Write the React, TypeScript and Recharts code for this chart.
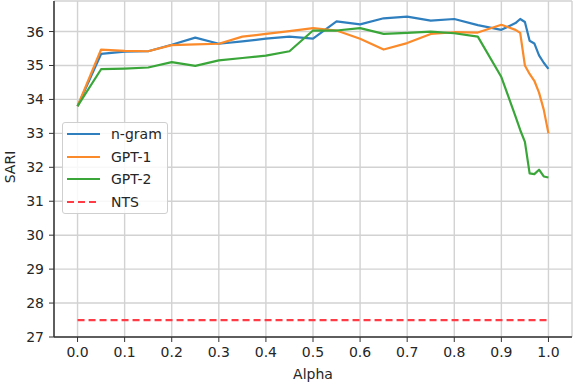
import React from "react";
import {
  LineChart,
  Line,
  XAxis,
  YAxis,
  CartesianGrid,
  Legend,
} from "recharts";

const alphas = [
  0, 0.05, 0.1, 0.15, 0.2, 0.25, 0.3, 0.35, 0.4, 0.45, 0.5, 0.55, 0.6, 0.65,
  0.7, 0.75, 0.8, 0.85, 0.9, 0.93, 0.94, 0.95, 0.96, 0.97, 0.98, 0.99, 1.0,
];

const ngram = [
  33.8, 35.34, 35.41, 35.42, 35.61, 35.82, 35.64, 35.71, 35.79, 35.85, 35.79,
  36.3, 36.21, 36.39, 36.44, 36.32, 36.37, 36.19, 36.05, 36.25, 36.37, 36.28,
  35.73, 35.65, 35.3, 35.08, 34.9,
];

const gpt1 = [
  33.8, 35.47, 35.43, 35.42, 35.6, 35.62, 35.64, 35.85, 35.93, 36.01, 36.1,
  36.03, 35.79, 35.47, 35.66, 35.93, 35.98, 35.97, 36.2, 36.05, 35.96, 35.0,
  34.75, 34.55, 34.2, 33.7, 33.0,
];

const gpt2 = [
  33.8, 34.89, 34.91, 34.94, 35.1, 34.99, 35.15, 35.22, 35.29, 35.42, 36.03,
  36.03, 36.1, 35.93, 35.96, 36.0, 35.95, 35.85, 34.66, 33.5, 33.1, 32.75,
  31.82, 31.8, 31.93, 31.73, 31.7,
];

const nts = alphas.map(() => 27.5);

const xTicks = [0, 0.1, 0.2, 0.3, 0.4, 0.5, 0.6, 0.7, 0.8, 0.9, 1.0];
const yTicks = [27, 28, 29, 30, 31, 32, 33, 34, 35, 36];

const series = [
  { key: "ngram", name: "n-gram", color: "#2f7fbf", dash: undefined as string | undefined },
  { key: "gpt1", name: "GPT-1", color: "#fb8a2a", dash: undefined as string | undefined },
  { key: "gpt2", name: "GPT-2", color: "#3aa63a", dash: undefined as string | undefined },
  { key: "nts", name: "NTS", color: "#ff3c46", dash: "7 4" },
];

const data = alphas.map((a, i) => ({
  alpha: a,
  ngram: ngram[i],
  gpt1: gpt1[i],
  gpt2: gpt2[i],
  nts: nts[i],
}));

const FONT = "'DejaVu Sans', sans-serif";
const TEXT = "#262626";
const FRAME = "#333333";

const LegendBox = () => (
  <div
    style={{
      width: 106,
      boxSizing: "border-box",
      border: "1px solid #cfcfcf",
      borderRadius: 3,
      background: "rgba(255,255,255,0.85)",
      fontFamily: FONT,
      fontSize: 14,
      color: TEXT,
    }}
  >
    {series.map((s) => (
      <div
        key={s.key}
        style={{ height: 22.5, display: "flex", alignItems: "center" }}
      >
        <svg width={48} height={10} style={{ flex: "none" }}>
          <line
            x1={4}
            x2={37}
            y1={5}
            y2={5}
            stroke={s.color}
            strokeWidth={2.2}
            strokeDasharray={s.dash}
          />
        </svg>
        <span style={{ lineHeight: "14px" }}>{s.name}</span>
      </div>
    ))}
  </div>
);

export default function App() {
  return (
    <div style={{ position: "absolute", left: 0, top: 0, background: "#fff" }}>
      <LineChart
        width={574}
        height={386}
        data={data}
        margin={{ top: 1, right: 2, left: 0, bottom: 0 }}
      >
        <CartesianGrid stroke="#d2d2d2" strokeWidth={1.4} />
        <XAxis
          dataKey="alpha"
          type="number"
          domain={[-0.05, 1.05]}
          allowDataOverflow
          ticks={xTicks}
          tickFormatter={(v: number) => v.toFixed(1)}
          height={49}
          tickSize={5}
          tickMargin={5}
          stroke={FRAME}
          axisLine={{ stroke: FRAME, strokeWidth: 1.5 }}
          tickLine={{ stroke: FRAME }}
          tick={{ fill: TEXT, fontSize: 14, fontFamily: FONT }}
          label={{
            value: "Alpha",
            position: "insideBottom",
            offset: 7,
            fill: TEXT,
            fontSize: 14,
            fontFamily: FONT,
          }}
        />
        <XAxis
          xAxisId="top"
          orientation="top"
          type="number"
          domain={[-0.05, 1.05]}
          height={0}
          tick={false}
          tickLine={false}
          axisLine={{ stroke: FRAME, strokeWidth: 1.5 }}
        />
        <YAxis
          type="number"
          domain={[27, 36.9]}
          allowDataOverflow
          ticks={yTicks}
          width={54}
          tickSize={5}
          tickMargin={5}
          axisLine={{ stroke: FRAME, strokeWidth: 1.5 }}
          tickLine={{ stroke: FRAME }}
          tick={{ fill: TEXT, fontSize: 14, fontFamily: FONT }}
          label={{
            content: () => (
              <text
                x={0}
                y={0}
                transform="translate(15,167) rotate(-90)"
                textAnchor="middle"
                fill={TEXT}
                fontSize={14}
                fontFamily={FONT}
              >
                SARI
              </text>
            ),
          }}
        />
        <YAxis
          yAxisId="right"
          orientation="right"
          type="number"
          domain={[27, 36.9]}
          width={0}
          tick={false}
          tickLine={false}
          axisLine={{ stroke: FRAME, strokeWidth: 1.5 }}
        />
        {series.map((s) => (
          <Line
            key={s.key}
            type="linear"
            dataKey={s.key}
            name={s.name}
            stroke={s.color}
            strokeWidth={2.2}
            strokeDasharray={s.dash}
            strokeLinejoin="round"
            dot={false}
            activeDot={false}
            isAnimationActive={false}
          />
        ))}
        <Legend
          layout="vertical"
          align="center"
          verticalAlign="middle"
          content={() => <LegendBox />}
          wrapperStyle={{ left: 62, top: 122, width: 106, height: "auto" }}
        />
      </LineChart>
    </div>
  );
}
